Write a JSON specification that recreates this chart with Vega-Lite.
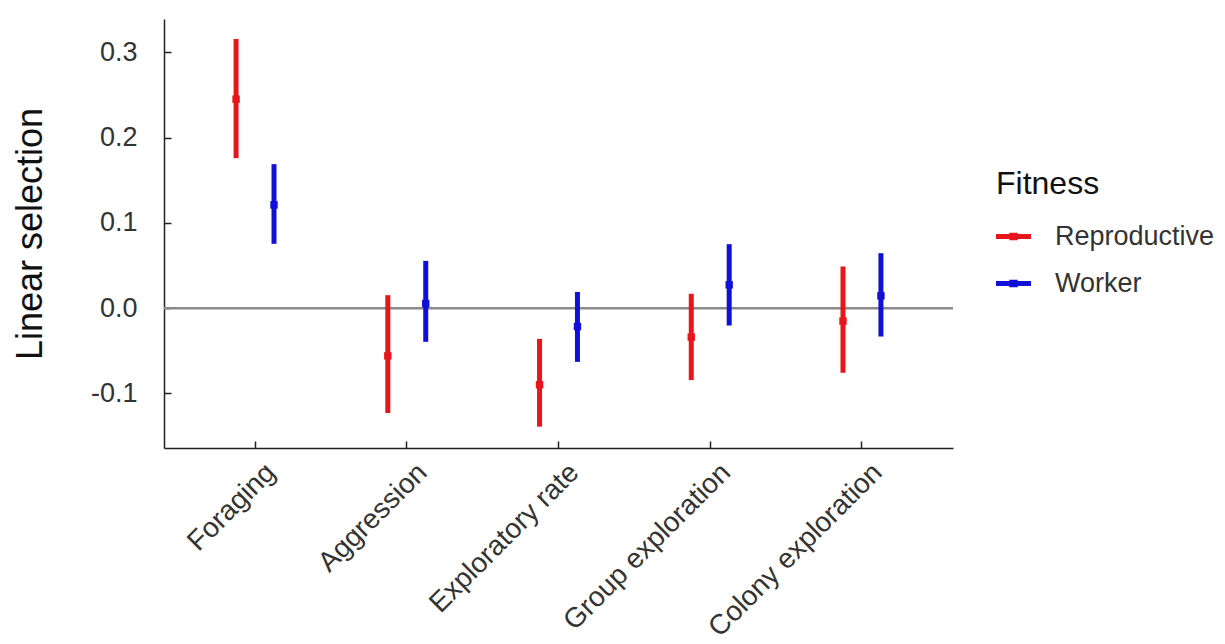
{
  "$schema": "https://vega.github.io/schema/vega-lite/v6.json",
  "width": 789,
  "height": 429,
  "autosize": "none",
  "padding": {"left": 164, "top": 19, "right": 272, "bottom": 196},
  "background": "white",
  "config": {
    "view": {"stroke": null},
    "font": "Liberation Sans"
  },
  "datasets": {
    "est": [
      {"trait": "Foraging", "fitness": "Reproductive", "est": 0.245, "lo": 0.1758, "hi": 0.3156},
      {"trait": "Foraging", "fitness": "Worker", "est": 0.121, "lo": 0.0754, "hi": 0.1688},
      {"trait": "Aggression", "fitness": "Reproductive", "est": -0.056, "lo": -0.123, "hi": 0.0152},
      {"trait": "Aggression", "fitness": "Worker", "est": 0.0054, "lo": -0.0395, "hi": 0.0554},
      {"trait": "Exploratory rate", "fitness": "Reproductive", "est": -0.0899, "lo": -0.139, "hi": -0.036},
      {"trait": "Exploratory rate", "fitness": "Worker", "est": -0.0216, "lo": -0.063, "hi": 0.019},
      {"trait": "Group exploration", "fitness": "Reproductive", "est": -0.034, "lo": -0.0844, "hi": 0.0168},
      {"trait": "Group exploration", "fitness": "Worker", "est": 0.0273, "lo": -0.0204, "hi": 0.075},
      {"trait": "Colony exploration", "fitness": "Reproductive", "est": -0.0152, "lo": -0.0758, "hi": 0.0488},
      {"trait": "Colony exploration", "fitness": "Worker", "est": 0.0144, "lo": -0.0333, "hi": 0.0644}
    ],
    "zero": [{"z": 0}]
  },
  "layer": [
    {
      "data": {"name": "zero"},
      "mark": {"type": "rule", "color": "#8a8a8a", "strokeWidth": 2.5},
      "encoding": {
        "y": {"field": "z", "type": "quantitative", "scale": {"domain": [-0.164, 0.339], "nice": false, "zero": false}}
      }
    },
    {
      "data": {"name": "est"},
      "mark": {"type": "rule", "strokeWidth": 5},
      "encoding": {
        "x": {"field": "trait", "type": "nominal", "sort": ["Foraging", "Aggression", "Exploratory rate", "Group exploration", "Colony exploration"], "scale": {"type": "band", "paddingInner": 0, "paddingOuter": 0.1}, "title": null,
          "axis": {"labelAngle": -45, "labelAlign": "right", "labelBaseline": "middle", "labelFontSize": 28, "labelColor": "#333333", "labelLimit": 0, "labelOffset": 16, "tickSize": -7, "tickColor": "#222222", "tickWidth": 1.5, "domainColor": "#222222", "domainWidth": 1.5, "labelPadding": 27, "grid": false}},
        "xOffset": {"field": "fitness", "type": "nominal", "scale": {"type": "band", "paddingInner": 0, "paddingOuter": 1.45}},
        "y": {"field": "lo", "type": "quantitative", "scale": {"domain": [-0.164, 0.339], "nice": false, "zero": false}, "title": "Linear selection",
          "axis": {"values": [-0.1, 0, 0.1, 0.2, 0.3], "labelExpr": "replace(format(datum.value, '.1f'), '−', '-')", "labelFontSize": 27, "labelColor": "#333333", "tickSize": -7, "tickColor": "#222222", "tickWidth": 1.5, "domainColor": "#222222", "domainWidth": 1.5, "labelPadding": 34, "grid": false, "titleFontSize": 36, "titleFontWeight": "normal", "titleColor": "#111111", "titlePadding": 41}},
        "y2": {"field": "hi"},
        "color": {"field": "fitness", "type": "nominal", "scale": {"domain": ["Reproductive", "Worker"], "range": ["#e8161b", "#1010d8"]}, "title": "Fitness",
          "legend": {"orient": "none", "legendX": 832, "legendY": 150, "titleFontSize": 32, "titleFontWeight": "normal", "titleColor": "#111111", "labelFontSize": 27, "labelColor": "#333333", "symbolType": "M-1,-0.14H1V0.14H-1Z M-0.24,-0.22H0.24V0.22H-0.24Z", "symbolSize": 1225, "symbolStrokeWidth": 0, "labelOffset": 24, "rowPadding": 16, "titlePadding": 18}}
      }
    },
    {
      "data": {"name": "est"},
      "mark": {"type": "point", "shape": "square", "filled": true, "opacity": 1, "size": 55},
      "encoding": {
        "x": {"field": "trait", "type": "nominal", "sort": ["Foraging", "Aggression", "Exploratory rate", "Group exploration", "Colony exploration"]},
        "xOffset": {"field": "fitness", "type": "nominal"},
        "y": {"field": "est", "type": "quantitative"},
        "color": {"field": "fitness", "type": "nominal"}
      }
    }
  ]
}
